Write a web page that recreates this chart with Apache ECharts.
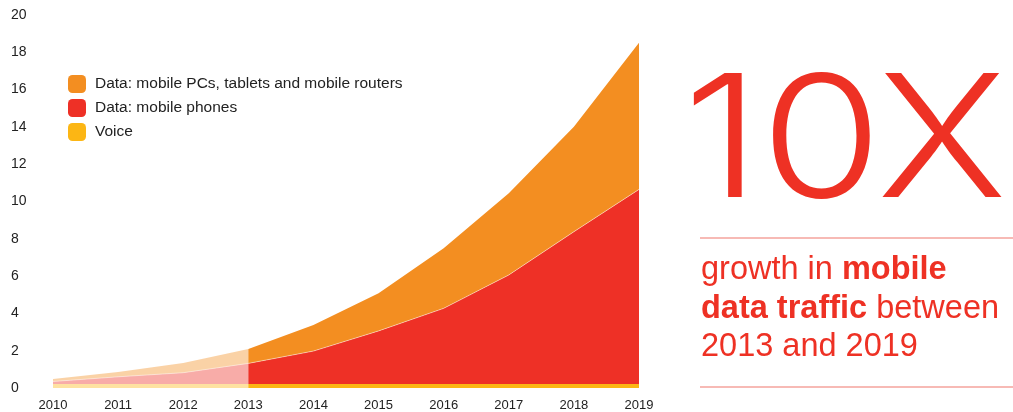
<!DOCTYPE html>
<html>
<head>
<meta charset="utf-8">
<script src="https://cdn.jsdelivr.net/npm/echarts@6/dist/echarts.min.js"></script>
<style>
  html, body { margin: 0; padding: 0; background: #fff; }
  #chart-container { width: 1013px; height: 412px; }
</style>
</head>
<body>
<div id="chart-container"></div>
<script>
var years = ["2010", "2011", "2012", "2013", "2014", "2015", "2016", "2017", "2018", "2019"];
var voice = [0.22, 0.22, 0.22, 0.22, 0.22, 0.22, 0.22, 0.22, 0.22, 0.22];
var phones = [0.13, 0.38, 0.6, 1.1, 1.76, 2.84, 4.05, 5.84, 8.16, 10.43];
var pcs = [0.13, 0.26, 0.52, 0.77, 1.4, 2.02, 3.22, 4.38, 5.63, 7.86];
var names = ["Voice", "Data: mobile phones", "Data: mobile PCs, tablets and mobile routers"];
var splitIndex = 3; // 2013: everything before is faded

var dom = document.getElementById("chart-container");
var myChart = echarts.init(dom, null, { renderer: "canvas" });

var colors = ["#fcb614", "#ee3026", "#f38e21"];
var font = "'Liberation Sans', Arial, sans-serif";

function part(data, early) {
  return data.map(function (v, i) {
    if (early) return i <= splitIndex ? v : "-";
    return i >= splitIndex ? v : "-";
  });
}

function makeSeries(name, data, color, early) {
  return {
    name: early ? name + " (early)" : name,
    type: "line",
    stack: early ? "early" : "main",
    data: part(data, early),
    color: color,
    showSymbol: false,
    symbol: "none",
    silent: true,
    lineStyle: {
      width: name === names[1] ? 1 : 0,
      color: "rgba(255,255,255,0.45)"
    },
    areaStyle: { color: color, opacity: early ? 0.4 : 1 }
  };
}

var series = [];
var allData = [voice, phones, pcs];
for (var i = 0; i < 3; i++) series.push(makeSeries(names[i], allData[i], colors[i], false));
for (var j = 0; j < 3; j++) series.push(makeSeries(names[j], allData[j], colors[j], true));

var red = "#ee3124";
var option = {
  animation: false,
  grid: { left: 53, right: 374, top: 15, bottom: 24 },
  legend: {
    data: [names[2], names[1], names[0]],
    orient: "vertical",
    left: 63,
    top: 70,
    itemWidth: 18,
    itemHeight: 18,
    itemGap: 6,
    icon: "roundRect",
    textStyle: { fontFamily: font, fontSize: 15.5, color: "#222", padding: [0, 0, 0, 4] }
  },
  xAxis: {
    type: "category",
    data: years,
    boundaryGap: false,
    axisLine: { show: false },
    axisTick: { show: false },
    axisLabel: { fontFamily: font, fontSize: 13, color: "#222", margin: 11 }
  },
  yAxis: {
    type: "value",
    min: 0,
    max: 20,
    interval: 2,
    splitLine: { show: false },
    axisLine: { show: false },
    axisTick: { show: false },
    axisLabel: { fontFamily: font, fontSize: 14, color: "#222", align: "left", margin: 42 }
  },
  series: series,
  graphic: [
    {
      type: "text",
      x: 683,
      y: 61,
      scaleX: 1.16,
      style: {
        text: "10X",
        fontFamily: "Inter, Roboto, sans-serif",
        fontWeight: 300,
        fontSize: 170,
        fill: red
      }
    },
    {
      type: "line",
      shape: { x1: 700, y1: 238, x2: 1013, y2: 238 },
      style: { stroke: "#f5a39d", lineWidth: 1.5 }
    },
    {
      type: "text",
      left: 701,
      top: 251,
      style: {
        text: "growth in {b|mobile}\n{b|data traffic} between\n2013 and 2019",
        fontFamily: font,
        fontSize: 32.5,
        lineHeight: 38.5,
        fill: red,
        rich: {
          b: { fontFamily: font, fontSize: 32.5, fontWeight: "bold", lineHeight: 38.5, fill: red }
        }
      }
    },
    {
      type: "line",
      shape: { x1: 700, y1: 387, x2: 1013, y2: 387 },
      style: { stroke: "#f5a39d", lineWidth: 1.5 }
    }
  ]
};

myChart.setOption(option);
window.addEventListener("resize", myChart.resize);
</script>
</body>
</html>
